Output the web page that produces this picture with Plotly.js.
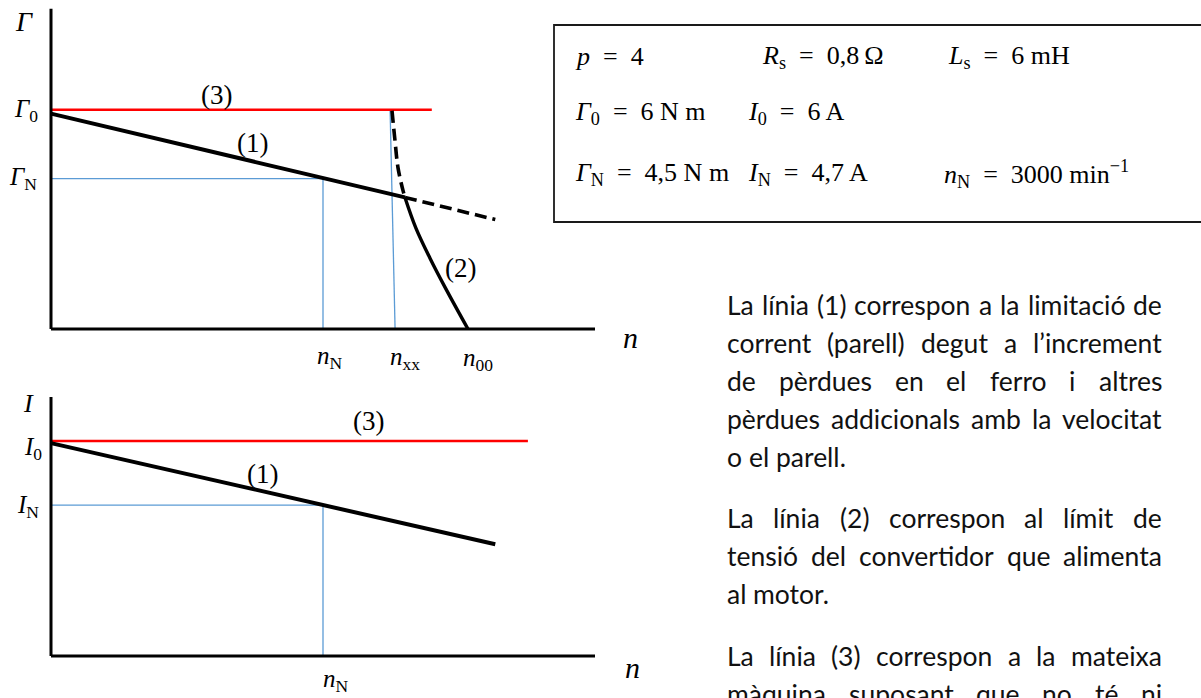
<!DOCTYPE html>
<html>
<head>
<meta charset="utf-8">
<script src="https://cdn.plot.ly/plotly-3.0.1.min.js"></script>
<style>
  html, body { margin: 0; padding: 0; background: #ffffff; }
  #chart { width: 1201px; height: 698px; }
</style>
</head>
<body>
<div id="chart"></div>
<script>
// ---- Speeds (min^-1) ----
const speedAxisEnd = 6000;
const speedNominal = 3000;
const speedXXGuideN = [3740, 3795];     // guide dropped from the Γ0 level to n_xx
const speedXXGuideG = [100, 0];
const speedZeroTorque = 4600;

// ---- Torque–speed diagram (torque relative to Γ0 = 100) ----
const torqueAxisTop = 146;
const torqueNominal = 68.6;
const line3SpeedT = [0, 4200];
const line3Torque = [100, 100];
const line1SpeedT = [0, 3000, 3904];
const line1Torque = [98.2, 68.6, 60];
const line1ExtSpeedT = [3904, 4900];
const line1ExtTorque = [60, 49.9];
const line2UpperSpeed = [3761, 3794, 3827, 3882, 3904];
const line2UpperTorque = [99.5, 85.9, 73.6, 63.2, 60];
const line2Speed = [3904, 4026, 4180, 4357, 4599];
const line2Torque = [60, 45.9, 32.3, 18.2, 0];

// ---- Current–speed diagram (current relative to I0 = 100) ----
const currentAxisTop = 120.5;
const currentNominal = 70.2;
const line3SpeedI = [0, 5260];
const line3Current = [100, 100];
const line1SpeedI = [0, 3000, 4900];
const line1Current = [99, 70.2, 52];

// ---- Motor data table ----
const tableRows = [
  ["<i>p</i>\u2002=\u20024", "<i>R</i><sub>s</sub>\u2002=\u20020,8\u2009Ω", "<i>L</i><sub>s</sub>\u2002=\u20026 mH"],
  ["<i>Γ</i><sub>0</sub>\u2002=\u20026 N m", "<i>I</i><sub>0</sub>\u2002=\u20026 A", ""],
  ["<i>Γ</i><sub>N</sub>\u2002=\u20024,5 N m", "<i>I</i><sub>N</sub>\u2002=\u20024,7 A", "<i>n</i><sub>N</sub>\u2002=\u20023000 min<sup>−1</sup>"]
];

// ---- Explanatory text ----
const paragraphs = [
  ["La línia (1) correspon a la limitació de",
   "corrent (parell) degut a l’increment",
   "de pèrdues en el ferro i altres",
   "pèrdues addicionals amb la velocitat",
   "o el parell."],
  ["La línia (2) correspon al límit de",
   "tensió del convertidor que alimenta",
   "al motor."],
  ["La línia (3) correspon a la mateixa",
   "màquina suposant que no té ni"]
];

// ---------------------------------------------------------------
const W = 1201, H = 698;
const SERIF = "Liberation Serif, DejaVu Serif, serif";
const SANS = "Lato, Carlito, Open Sans, sans-serif";
const BLUE = "#5b9bd5";
const RED = "#ff0000";

// pixel geometry of the two diagrams
const xOrigin = 51, xScale = 272 / speedNominal;        // px per min^-1
const topOrigin = 329, topScale = 2.2;                  // px per unit
const botOrigin = 656, botScale = 2.15;
const xRange = [-300, 6300];
const topRange = [-5, 150];
const botRange = [-5, 124];

const xDomain = [(xOrigin + xRange[0] * xScale) / W, (xOrigin + xRange[1] * xScale) / W];
function yDomain(r, o, k) {
  return [(H - (o - r[0] * k)) / H, (H - (o - r[1] * k)) / H];
}
const px = v => v / W;
const py = v => 1 - v / H;

function line(x, y, xa, ya, color, width, dash) {
  return {
    type: "scatter", mode: "lines", x: x, y: y, xaxis: xa, yaxis: ya,
    line: { color: color, width: width, dash: dash || "solid", shape: "linear" },
    hoverinfo: "skip", showlegend: false
  };
}
function curve(x, y, xa, ya, color, width, dash) {
  const t = line(x, y, xa, ya, color, width, dash);
  t.line.shape = "spline";
  t.line.smoothing = 1;
  return t;
}

const traces = [
  // torque diagram guides
  line([0, speedNominal], [torqueNominal, torqueNominal], "x", "y", BLUE, 1.3),
  line([speedNominal, speedNominal], [torqueNominal, 0], "x", "y", BLUE, 1.3),
  line(speedXXGuideN, speedXXGuideG, "x", "y", BLUE, 1.3),
  // torque limits
  line(line3SpeedT, line3Torque, "x", "y", RED, 2.6),
  line(line1SpeedT, line1Torque, "x", "y", "#000", 4),
  line(line1ExtSpeedT, line1ExtTorque, "x", "y", "#000", 3.6, "12px,6px"),
  curve(line2UpperSpeed, line2UpperTorque, "x", "y", "#000", 3.6, "12px,6px"),
  curve(line2Speed, line2Torque, "x", "y", "#000", 3.4),
  // current diagram guides
  line([0, speedNominal], [currentNominal, currentNominal], "x2", "y2", BLUE, 1.3),
  line([speedNominal, speedNominal], [currentNominal, 0], "x2", "y2", BLUE, 1.3),
  // current limits
  line(line3SpeedI, line3Current, "x2", "y2", RED, 2.6),
  line(line1SpeedI, line1Current, "x2", "y2", "#000", 4)
];

const shapes = [
  // axes of the torque diagram
  { type: "line", xref: "x", yref: "y", x0: 0, y0: 0, x1: 0, y1: torqueAxisTop, line: { color: "#000", width: 3 } },
  { type: "line", xref: "x", yref: "y", x0: 0, y0: 0, x1: speedAxisEnd, y1: 0, line: { color: "#000", width: 3 } },
  // axes of the current diagram
  { type: "line", xref: "x2", yref: "y2", x0: 0, y0: 0, x1: 0, y1: currentAxisTop, line: { color: "#000", width: 3 } },
  { type: "line", xref: "x2", yref: "y2", x0: 0, y0: 0, x1: speedAxisEnd, y1: 0, line: { color: "#000", width: 3 } },
  // data table frame
  { type: "rect", xref: "paper", yref: "paper", x0: px(554), x1: px(1215), y0: py(222), y1: py(25),
    line: { color: "#1a1a1a", width: 1.8 }, fillcolor: "rgba(0,0,0,0)" }
];

const annotations = [];
function label(text, x, y, size, extra) {
  annotations.push(Object.assign({
    text: text, xref: "paper", yref: "paper", x: px(x), y: py(y),
    xanchor: "center", yanchor: "middle", showarrow: false, borderpad: 0,
    font: { family: SERIF, size: size, color: "#000" }
  }, extra || {}));
}
function tick(text, xa, ya, x, y, xanchor, xshift, yshift, size) {
  annotations.push({
    text: text, xref: xa, yref: ya, x: x, y: y, xanchor: xanchor, yanchor: "middle",
    xshift: xshift, yshift: yshift, showarrow: false, borderpad: 0,
    font: { family: SERIF, size: size || 25, color: "#000" }
  });
}

// torque diagram labels
label("<i>Γ</i>", 24, 21, 28);
tick("<i>Γ</i><sub>0</sub>", "x", "y", 0, 100, "right", -12, -1);
tick("<i>Γ</i><sub>N</sub>", "x", "y", 0, torqueNominal, "right", -13, 0);
tick("<i>n</i><sub>N</sub>", "x", "y", speedNominal, 0, "center", 7, -28);
tick("<i>n</i><sub>xx</sub>", "x", "y", speedXXGuideN[1], 0, "center", 10, -29);
tick("<i>n</i><sub>00</sub>", "x", "y", speedZeroTorque, 0, "center", 10, -30);
label("<i>n</i>", 630, 337, 30);
label("(3)", 217, 95, 27);
label("(1)", 252, 143, 27);
label("(2)", 460, 268, 27);

// current diagram labels
label("<i>I</i>", 28, 404, 26);
tick("<i>I</i><sub>0</sub>", "x2", "y2", 0, 100, "right", -8, -7);
tick("<i>I</i><sub>N</sub>", "x2", "y2", 0, currentNominal, "right", -11, -1);
tick("<i>n</i><sub>N</sub>", "x2", "y2", speedNominal, 0, "center", 13, -24);
label("<i>n</i>", 632, 667, 30);
label("(3)", 368, 421, 27);
label("(1)", 262, 474, 27);

// data table
const tableColX = [[574, 761, 947], [574, 747, 947], [574, 747, 943]];
const tableRowY = [57, 113, 174];
tableRows.forEach((row, r) => row.forEach((cell, c) => {
  if (cell) label(cell, tableColX[r][c], tableRowY[r], 26, { xanchor: "left" });
}));

// justified body text, one annotation per word
const textLeft = 726, textRight = 1161;
const ctx = document.createElement("canvas").getContext("2d");
let bodySize = 26.5;
// shrink the body size until every justified line keeps reasonable word spacing
for (; bodySize > 18; bodySize -= 0.5) {
  ctx.font = bodySize + "px Lato";
  const sp = ctx.measureText(" ").width;
  const fits = paragraphs.every(para => para.every(txt => {
    const words = txt.split(" ");
    const total = words.reduce((a, w) => a + ctx.measureText(w).width, 0);
    return total + (words.length - 1) * sp * 0.85 <= textRight - textLeft;
  }));
  if (fits) break;
}
ctx.font = bodySize + "px Lato";
const lineY = [[305, 343, 381, 419, 457], [518, 556, 594], [656, 694]];
const lastLineOfPara = [true, true, false];
paragraphs.forEach((para, p) => para.forEach((txt, i) => {
  const words = txt.split(" ");
  const widths = words.map(w => ctx.measureText(w).width);
  const total = widths.reduce((a, b) => a + b, 0);
  const isLast = i === para.length - 1 && lastLineOfPara[p];
  const gap = (!isLast && words.length > 1)
    ? (textRight - textLeft - total) / (words.length - 1)
    : ctx.measureText(" ").width;
  let x = textLeft;
  words.forEach((w, k) => {
    label(w, x, lineY[p][i], bodySize, { xanchor: "left", font: { family: SANS, size: bodySize, color: "#111" } });
    x += widths[k] + gap;
  });
}));

const hidden = { visible: false, fixedrange: true };
const layout = {
  width: W, height: H,
  margin: { l: 0, r: 0, t: 0, b: 0, pad: 0 },
  paper_bgcolor: "#ffffff", plot_bgcolor: "rgba(0,0,0,0)",
  showlegend: false,
  xaxis: Object.assign({ domain: xDomain, range: xRange, anchor: "y" }, hidden),
  yaxis: Object.assign({ domain: yDomain(topRange, topOrigin, topScale), range: topRange, anchor: "x" }, hidden),
  xaxis2: Object.assign({ domain: xDomain, range: xRange, anchor: "y2" }, hidden),
  yaxis2: Object.assign({ domain: yDomain(botRange, botOrigin, botScale), range: botRange, anchor: "x2" }, hidden),
  shapes: shapes,
  annotations: annotations
};

Plotly.newPlot("chart", traces, layout, { staticPlot: true, displayModeBar: false });
</script>
</body>
</html>
